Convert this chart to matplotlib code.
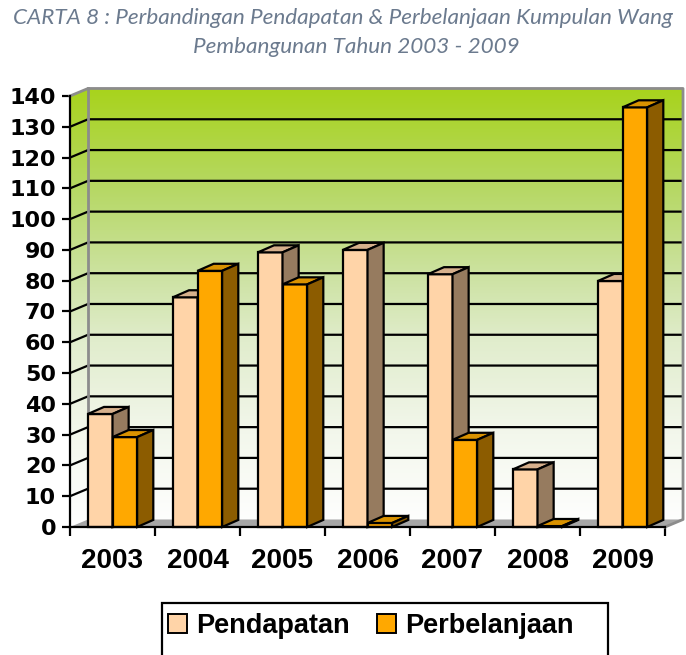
import numpy as np
import matplotlib
matplotlib.use("Agg")
import matplotlib.pyplot as plt
from matplotlib.patches import Polygon, Rectangle, Patch

# ── data ─────────────────────────────────────────────────────────────────────
years = ["2003", "2004", "2005", "2006", "2007", "2008", "2009"]
pendapatan = [36.7, 74.6, 89.2, 90.0, 82.1, 18.7, 79.9]
perbelanjaan = [29.2, 83.2, 78.8, 1.3, 28.3, 0.3, 136.3]
y_ticks = list(range(0, 141, 10))
series_names = ["Pendapatan", "Perbelanjaan"]

# ── styling ──────────────────────────────────────────────────────────────────
P_FRONT, P_TOP, P_SIDE = "#ffd4a8", "#d6b08c", "#967b5f"
E_FRONT, E_TOP, E_SIDE = "#ffa800", "#d99200", "#8c5c00"
WALL_EDGE = "#8c8c8c"
FLOOR_CLR = "#a6a6a6"
TITLE_CLR = "#6b7a8e"

DX_W, DY_W = 0.212, 2.44      # wall depth (data units)
DX_B, DY_B = 0.19, 2.3        # bar depth
BAR_W = 0.29
BAR_X0 = 0.21

W, H = 686, 655
fig = plt.figure(figsize=(W / 100, H / 100), dpi=100)

xlim = (-0.12, 7.25)
ylim = (-4, 143)
px_x, px_y = 85.0, 3.0786
left_px = 70 - (0 - xlim[0]) * px_x
right_px = 665 + (xlim[1] - 7) * px_x
bot_px = 527 + (0 - ylim[0]) * px_y
top_px = 527 - ylim[1] * px_y
ax = fig.add_axes([left_px / W, 1 - bot_px / H,
                   (right_px - left_px) / W, (bot_px - top_px) / H])
ax.set_xlim(*xlim)
ax.set_ylim(*ylim)
ax.patch.set_visible(False)

n = len(years)

# ── walls with gradient ──────────────────────────────────────────────────────
stops_v = [0, 30, 60, 80, 110, 142.4]
stops_c = np.array([(255, 255, 255), (243, 247, 236), (225, 237, 205),
                    (206, 227, 165), (182, 216, 100), (168, 211, 28)]) / 255
vv = np.linspace(0, 140 + DY_W, 300)
grad = np.stack([np.interp(vv, stops_v, stops_c[:, k]) for k in range(3)], axis=-1)
grad = grad[:, None, :]
wall = Polygon([(0, 0), (0, 140), (DX_W, 140 + DY_W), (n + DX_W, 140 + DY_W),
                (n + DX_W, DY_W), (DX_W, DY_W)], closed=True,
               transform=ax.transData, fc="none", ec="none")
ax.add_patch(wall)
im = ax.imshow(grad, origin="lower", aspect="auto",
               extent=[0, n + DX_W, 0, 140 + DY_W], zorder=0)
im.set_clip_path(wall)

# floor
ax.add_patch(Polygon([(0, 0), (n, 0), (n + DX_W, DY_W), (DX_W, DY_W)],
                     closed=True, fc=FLOOR_CLR, ec="none", zorder=1))

# gridlines on side + back wall
for v in y_ticks[1:-1]:
    ax.plot([0, DX_W, n + DX_W], [v, v + DY_W, v + DY_W],
            color="black", lw=1.6, zorder=1.5, solid_capstyle="butt")

# wall borders
ax.plot([0, DX_W, n + DX_W, n + DX_W, n], [140, 140 + DY_W, 140 + DY_W, DY_W, 0],
        color=WALL_EDGE, lw=2, zorder=1.6)
ax.plot([DX_W, DX_W], [DY_W, 140 + DY_W], color=WALL_EDGE, lw=2, zorder=1.6)


# ── bars ─────────────────────────────────────────────────────────────────────
def draw_bar(x0, h, front, top, side):
    kw = dict(ec="black", lw=1.6, joinstyle="miter", zorder=3)
    ax.add_patch(Rectangle((x0, 0), BAR_W, h, fc=front, **kw))
    ax.add_patch(Polygon([(x0, h), (x0 + BAR_W, h), (x0 + BAR_W + DX_B, h + DY_B),
                          (x0 + DX_B, h + DY_B)], closed=True, fc=top, **kw))
    ax.add_patch(Polygon([(x0 + BAR_W, 0), (x0 + BAR_W + DX_B, DY_B),
                          (x0 + BAR_W + DX_B, h + DY_B), (x0 + BAR_W, h)],
                         closed=True, fc=side, **kw))


for i in range(n):
    draw_bar(i + BAR_X0, pendapatan[i], P_FRONT, P_TOP, P_SIDE)
    draw_bar(i + BAR_X0 + BAR_W, perbelanjaan[i], E_FRONT, E_TOP, E_SIDE)

# ── axes ─────────────────────────────────────────────────────────────────────
for s in ["top", "right"]:
    ax.spines[s].set_visible(False)
ax.spines["left"].set_position(("data", 0))
ax.spines["bottom"].set_position(("data", 0))
ax.spines["left"].set_bounds(0, 140)
ax.spines["bottom"].set_bounds(0, n)
for s in ["left", "bottom"]:
    ax.spines[s].set_linewidth(1.6)
    ax.spines[s].set_zorder(4)

ax.set_yticks(y_ticks)
ax.set_yticklabels([str(v) for v in y_ticks], fontfamily="DejaVu Sans",
                   fontweight="bold", fontsize=16)
ax.tick_params(axis="y", length=6, width=1.6, pad=4)

ax.set_xticks(range(n + 1))
ax.set_xticklabels([])
ax.set_xticks(np.arange(n) + 0.5, minor=True)
ax.set_xticklabels(years, minor=True, fontfamily="Liberation Sans",
                   fontweight="bold", fontsize=20)
ax.tick_params(axis="x", which="major", length=6.5, width=1.6)
ax.tick_params(axis="x", which="minor", length=0, pad=15)

# ── title ────────────────────────────────────────────────────────────────────
fig.text(0.5, 1 - 18 / H,
         "CARTA 8 : Perbandingan Pendapatan & Perbelanjaan Kumpulan Wang",
         ha="center", va="center", fontstyle="italic", fontfamily="Lato",
         fontsize=16.2, color=TITLE_CLR)
fig.text(356 / W, 1 - 47 / H, "Pembangunan Tahun 2003 - 2009",
         ha="center", va="center", fontstyle="italic", fontfamily="Lato",
         fontsize=16.2, color=TITLE_CLR)

# ── legend ───────────────────────────────────────────────────────────────────
fig.patches.append(Rectangle((162 / W, -0.05), (608 - 162) / W, 0.05 + (655 - 603) / H,
                             transform=fig.transFigure, fc="white",
                             ec="black", lw=1.6))
handles = [Patch(fc=P_FRONT, ec="black", lw=1.4),
           Patch(fc=E_FRONT, ec="black", lw=1.4)]
fig.legend(handles, series_names, loc="center left",
           bbox_to_anchor=(168 / W, 1 - 626 / H), ncol=2, frameon=False,
           prop=dict(family="Liberation Sans", weight="bold", size=19.5),
           handlelength=0.7, handleheight=0.7, handletextpad=0.35,
           columnspacing=1.0, borderpad=0, borderaxespad=0)

fig.savefig("out.png", dpi=100)
